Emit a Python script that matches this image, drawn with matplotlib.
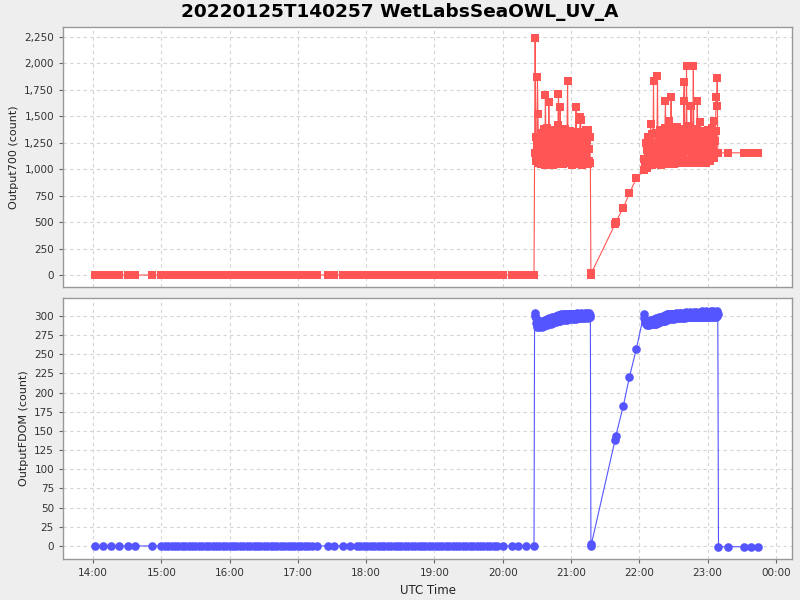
import numpy as np
import pandas as pd
import matplotlib
matplotlib.use("Agg")
import matplotlib.pyplot as plt
import matplotlib.dates as mdates
from matplotlib.ticker import FuncFormatter, MultipleLocator

title = "20220125T140257 WetLabsSeaOWL_UV_A"
start = pd.Timestamp("2022-01-25 14:00")

# ===== sample times, minutes after 14:00 =====
t_seg_a = [2.1, 9.1, 15.8, 22.8, 30.3, 37.3]
t_seg_b = [51.8, 59.7, 63, 66, 69, 72, 75, 78, 81, 84, 87, 90, 93, 96, 99, 102, 105,
           108, 111, 114, 117, 120, 123, 126, 129, 132, 135, 138, 141, 144, 147, 150,
           153, 156, 159, 162, 165, 168, 171, 174, 177, 180, 183, 186, 189, 192, 196.8]
t_seg_c = [206.5, 211.4, 219.7, 225.8, 232, 235, 238, 241, 244, 247, 250, 253, 256,
           259, 262, 265, 268, 271, 274, 277, 280, 283, 286, 289, 292, 295, 298, 301,
           304, 307, 310, 313, 316, 319, 322, 325, 328, 331, 334, 337, 340, 343, 346,
           349, 352, 355, 360.3]
t_seg_d = [368.2, 373, 380.5, 387.5]
t_burst1 = [388, 388.5, 389, 389.5, 390, 390.5, 391, 391.5, 392, 392.5,
            393, 393.5, 394, 394.5, 395, 395.5, 396, 396.5, 397, 397.5,
            398, 398.5, 399, 399.5, 400, 400.5, 401, 401.5, 402, 402.5,
            403, 403.5, 404, 404.5, 405, 405.5, 406, 406.5, 407, 407.5,
            408, 408.5, 409, 409.5, 410, 410.5, 411, 411.5, 412, 412.5,
            413, 413.5, 414, 414.5, 415, 415.5, 416, 416.5, 417, 417.5,
            418, 418.5, 419, 419.5, 420, 420.5, 421, 421.5, 422, 422.5,
            423, 423.5, 424, 424.5, 425, 425.5, 426, 426.5, 427, 427.5,
            428, 428.5, 429, 429.5, 430, 430.5, 431, 431.5, 432, 432.5,
            433, 433.5, 434, 434.5, 435, 435.5, 436, 436.5, 437]
t_ramp = [437.5, 438, 458.7, 459.3, 466, 471.3, 477.4]
t_burst2 = [484, 484.5, 485, 485.5, 486, 486.5, 487, 487.5, 488, 488.5,
            489, 489.5, 490, 490.5, 491, 491.5, 492, 492.5, 493, 493.5,
            494, 494.5, 495, 495.5, 496, 496.5, 497, 497.5, 498, 498.5,
            499, 499.5, 500, 500.5, 501, 501.5, 502, 502.5, 503, 503.5,
            504, 504.5, 505, 505.5, 506, 506.5, 507, 507.5, 508, 508.5,
            509, 509.5, 510, 510.5, 511, 511.5, 512, 512.5, 513, 513.5,
            514, 514.5, 515, 515.5, 516, 516.5, 517, 517.5, 518, 518.5,
            519, 519.5, 520, 520.5, 521, 521.5, 522, 522.5, 523, 523.5,
            524, 524.5, 525, 525.5, 526, 526.5, 527, 527.5, 528, 528.5,
            529, 529.5, 530, 530.5, 531, 531.5, 532, 532.5, 533, 533.5,
            534, 534.5, 535, 535.5, 536, 536.5, 537, 537.5, 538, 538.5,
            539, 539.5, 540, 540.5, 541, 541.5, 542, 542.5, 543, 543.5,
            544, 544.5, 545, 545.5, 546, 546.5, 547, 547.5, 548, 548.5,
            549]
t_tail = [549.6, 557.6, 572, 578.2, 584.3]

# ===== Output700 (count) =====
o700_burst1 = [1150, 2241, 1309, 1080, 1230, 1874, 1520, 1140, 1060, 1290,
               1200, 1050, 1340, 1120, 1260, 1070, 1380, 1170, 1040, 1704,
               1230, 1100, 1390, 1160, 1050, 1635, 1280, 1090, 1210, 1350,
               1060, 1180, 1300, 1040, 1250, 1130, 1370, 1080, 1220, 1320,
               1050, 1420, 1714, 1150, 1060, 1588, 1270, 1100, 1340, 1190,
               1050, 1290, 1130, 1380, 1070, 1240, 1160, 1330, 1836, 1060,
               1210, 1300, 1090, 1360, 1150, 1040, 1270, 1190, 1340, 1080,
               1230, 1120, 1310, 1588, 1050, 1260, 1170, 1350, 1070, 1220,
               1494, 1462, 1100, 1290, 1040, 1200, 1330, 1110, 1250, 1060,
               1370, 1160, 1280, 1050, 1368, 1190, 1080, 1300, 1060]
o700_ramp = [0, 20, 480, 500, 637, 772, 913]
o700_burst2 = [990, 1100, 1030, 1250, 1060, 1180, 1010, 1300, 1120, 1050,
               1230, 1090, 1428, 1160, 1040, 1330, 1120, 1836, 1060, 1250,
               1180, 1340, 1050, 1210, 1877, 1100, 1300, 1060, 1370, 1150,
               1040, 1270, 1190, 1350, 1080, 1230, 1120, 1390, 1645, 1060,
               1280, 1170, 1340, 1050, 1220, 1453, 1110, 1300, 1685, 1070,
               1250, 1160, 1380, 1050, 1290, 1130, 1360, 1080, 1210, 1400,
               1060, 1320, 1150, 1260, 1070, 1350, 1190, 1100, 1300, 1060,
               1641, 1824, 1230, 1380, 1090, 1977, 1170, 1320, 1060, 1410,
               1200, 1080, 1290, 1600, 1140, 1060, 1350, 1971, 1220, 1100,
               1310, 1060, 1380, 1170, 1648, 1080, 1260, 1140, 1340, 1443,
               1090, 1230, 1060, 1300, 1180, 1360, 1070, 1250, 1120, 1330,
               1060, 1210, 1370, 1100, 1280, 1160, 1340, 1080, 1240, 1390,
               1120, 1300, 1190, 1460, 1110, 1270, 1360, 1683, 1600, 1861,
               1150]
o700_tail = [1155, 1155, 1155, 1155, 1155]

# ===== OutputFDOM (count) =====
fdom_burst1 = [300, 304, 297, 291, 288, 286, 292, 285, 290, 287,
               293, 287, 292, 286, 294, 288, 293, 287, 295, 289,
               294, 288, 296, 290, 295, 289, 297, 291, 296, 290,
               298, 292, 297, 291, 299, 293, 298, 292, 300, 294,
               299, 293, 301, 294, 300, 294, 302, 295, 301, 295,
               302, 296, 301, 295, 303, 296, 302, 295, 303, 296,
               302, 296, 303, 297, 302, 296, 303, 297, 302, 296,
               303, 297, 302, 296, 304, 297, 302, 297, 303, 297,
               302, 297, 304, 298, 302, 297, 303, 298, 304, 297,
               303, 298, 304, 297, 303, 298, 304, 298, 301]
fdom_ramp = [0, 3, 138, 143, 183, 220, 257]
fdom_burst2 = [302, 297, 292, 289, 293, 288, 294, 289, 293, 288,
               295, 289, 294, 289, 295, 290, 294, 289, 296, 290,
               295, 290, 297, 291, 296, 291, 298, 292, 297, 292,
               299, 293, 298, 293, 300, 294, 299, 294, 301, 295,
               302, 295, 302, 296, 301, 296, 303, 297, 302, 296,
               303, 297, 302, 296, 303, 297, 304, 297, 302, 297,
               303, 297, 304, 298, 303, 297, 304, 298, 302, 297,
               304, 298, 303, 297, 305, 298, 303, 298, 304, 298,
               303, 298, 305, 299, 303, 298, 304, 299, 305, 298,
               303, 299, 305, 298, 304, 299, 303, 298, 305, 299,
               304, 299, 306, 299, 303, 298, 305, 299, 304, 299,
               306, 299, 304, 299, 305, 300, 303, 299, 306, 299,
               304, 300, 306, 299, 305, 300, 304, 299, 306, 300,
               303]
fdom_tail = [-1, -1, -1, -1, -1]

t_zero = t_seg_a + t_seg_b + t_seg_c + t_seg_d
t_all = t_zero + t_burst1 + t_ramp + t_burst2 + t_tail
o700_all = [0] * len(t_zero) + o700_burst1 + o700_ramp + o700_burst2 + o700_tail
fdom_all = [0] * len(t_zero) + fdom_burst1 + fdom_ramp + fdom_burst2 + fdom_tail

times = start + pd.to_timedelta(t_all, unit="m")

red = "#FF5555"
blue = "#5555FF"
grid_col = "#D4D4D4"
frame_col = "#999999"

fig = plt.figure(figsize=(8, 6), dpi=100, facecolor="#EEEEEE")
ax1 = fig.add_axes([63 / 800, 1 - 287 / 600, 729 / 800, 260 / 600])
ax2 = fig.add_axes([63 / 800, 1 - 559 / 600, 729 / 800, 261 / 600], sharex=ax1)

ax1.plot(times, o700_all, color=red, lw=0.8, marker="s", ms=5.4, mew=0)
ax2.plot(times, fdom_all, color=blue, lw=0.8, marker="o", ms=6.2, mew=0)

ax1.set_ylim(-113, 2344)
ax1.yaxis.set_major_locator(MultipleLocator(250))
ax2.set_ylim(-17, 323.4)
ax2.yaxis.set_major_locator(MultipleLocator(25))

fmt = FuncFormatter(lambda v, p: f"{v:,.0f}")
for ax in (ax1, ax2):
  ax.set_facecolor("white")
  ax.yaxis.set_major_formatter(fmt)
  ax.grid(True, color=grid_col, ls=(0, (3, 3)), lw=0.8)
  ax.set_axisbelow(True)
  for s in ax.spines.values():
    s.set_color(frame_col)
    s.set_linewidth(1.0)
  ax.tick_params(axis="both", colors="#666666", labelcolor="#333333", labelsize=7.5,
                 length=3, width=0.8, direction="out")

ax1.set_ylabel("Output700 (count)", fontsize=8, color="#222222")
ax2.set_ylabel("OutputFDOM (count)", fontsize=8, color="#222222")
ax2.set_xlabel("UTC Time", fontsize=8.5, color="#222222")
ax1.tick_params(axis="x", labelbottom=False, length=0)

x_lo = start + pd.Timedelta(minutes=-26.4)
x_hi = start + pd.Timedelta(minutes=614.2)
ax2.set_xlim(x_lo, x_hi)
ax2.xaxis.set_major_locator(mdates.HourLocator())
ax2.xaxis.set_major_formatter(mdates.DateFormatter("%H:%M"))

fig.text(0.5, 1 - 12 / 600, title, ha="center", va="center", fontsize=13.3,
         fontweight="bold", color="black")

fig.savefig("out.png", dpi=100, facecolor=fig.get_facecolor())
